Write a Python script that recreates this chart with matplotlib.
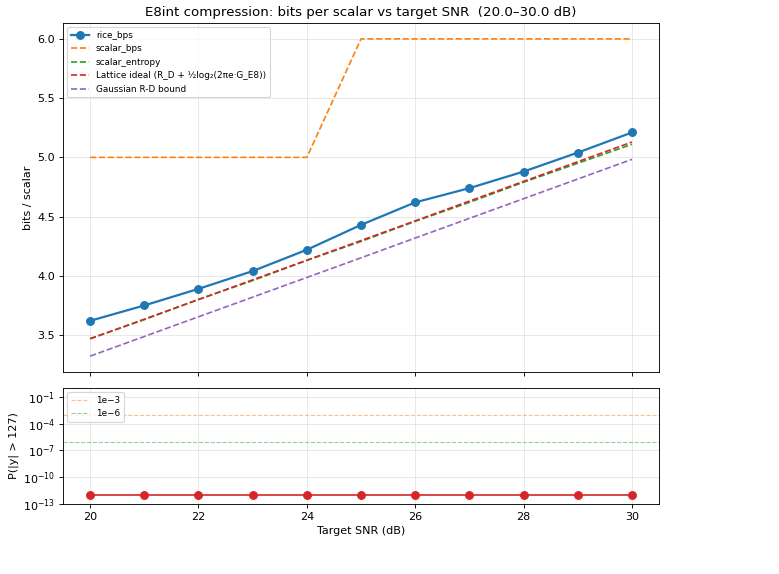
import matplotlib
matplotlib.use("Agg")
import matplotlib.pyplot as plt

# ── data ──────────────────────────────────────────────
snr_db = [20, 21, 22, 23, 24, 25, 26, 27, 28, 29, 30]
rice_bps = [3.62, 3.75, 3.89, 4.04, 4.22, 4.43, 4.62, 4.74, 4.88, 5.04, 5.21]
scalar_bps = [5.0, 5.0, 5.0, 5.0, 5.0, 6.0, 6.0, 6.0, 6.0, 6.0, 6.0]
scalar_entropy = [3.47, 3.63, 3.80, 3.96, 4.13, 4.29, 4.46, 4.62, 4.79, 4.95, 5.11]
lattice_ideal = [3.468, 3.634, 3.800, 3.966, 4.132, 4.298, 4.464, 4.631, 4.797, 4.963, 5.129]
gaussian_rd = [3.322, 3.488, 3.654, 3.820, 3.986, 4.152, 4.319, 4.485, 4.651, 4.817, 4.983]
p_overflow = [1e-12] * 11
ref_levels = [1e-3, 1e-6]
ref_labels = ["1e\u22123", "1e\u22126"]

# figure rendered at 80 dpi -> 779x574 px
fig = plt.figure(figsize=(779 / 80, 574 / 80), dpi=80)
ax = fig.add_axes([0.0809, 0.3519, 0.7651, 0.6080])
ax2 = fig.add_axes([0.0809, 0.1220, 0.7651, 0.2020], sharex=ax)

# ── top panel: bits per scalar ────────────────────────
ax.plot(snr_db, rice_bps, "-o", color="C0", lw=2, ms=7, label="rice_bps")
ax.plot(snr_db, scalar_bps, "--", color="C1", lw=1.5, label="scalar_bps")
ax.plot(snr_db, scalar_entropy, "--", color="C2", lw=1.5, label="scalar_entropy")
ax.plot(snr_db, lattice_ideal, "--", color="C3", lw=1.5,
        label="Lattice ideal (R_D + \u00bdlog\u2082(2\u03c0e\u00b7G_E8))")
ax.plot(snr_db, gaussian_rd, "--", color="C4", lw=1.5, label="Gaussian R-D bound")
ax.set_ylabel("bits / scalar")
ax.set_title("E8int compression: bits per scalar vs target SNR  (20.0\u201330.0 dB)", fontsize=12)
ax.grid(alpha=0.3)
ax.legend(loc="upper left", fontsize=8)
ax.tick_params(labelbottom=False)

# ── bottom panel: overflow probability ───────────────
ax2.semilogy(snr_db, p_overflow, "-o", color="C3", lw=1.5, ms=7)
ax2.axhline(ref_levels[0], color="C1", ls="--", lw=1, alpha=0.5, label=ref_labels[0])
ax2.axhline(ref_levels[1], color="C2", ls="--", lw=1, alpha=0.5, label=ref_labels[1])
ax2.set_ylim(1e-13, 1)
ax2.set_yticks([1e-13, 1e-10, 1e-7, 1e-4, 1e-1])
ax2.set_ylabel("P(|y| > 127)")
ax2.set_xlabel("Target SNR (dB)")
ax2.grid(alpha=0.3)
ax2.legend(loc="upper left", fontsize=8)
ax2.set_xticks([20, 22, 24, 26, 28, 30])

fig.savefig("out.png", dpi=80)
